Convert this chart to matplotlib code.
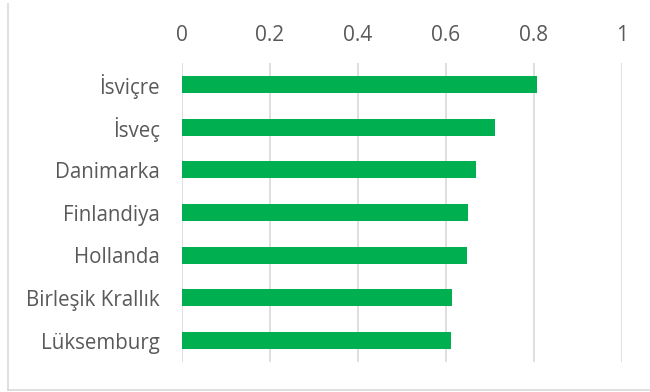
import matplotlib.pyplot as plt
from matplotlib.lines import Line2D

# Index values by country
countries = ["İsviçre", "İsveç", "Danimarka", "Finlandiya", "Hollanda",
             "Birleşik Krallık", "Lüksemburg"]
values = [0.807, 0.711, 0.668, 0.649, 0.648, 0.613, 0.611]
ticks = [0, 0.2, 0.4, 0.6, 0.8, 1]
tick_labels = ["0", "0.2", "0.4", "0.6", "0.8", "1"]

plt.rcParams['font.family'] = ['Open Sans', 'DejaVu Sans']
text_color = "#595959"

fig = plt.figure(figsize=(6.5, 3.92), dpi=100)
ax = fig.add_axes([182 / 650, 1 - 362 / 392, 440 / 650, 299 / 392])

ax.barh(range(len(countries)), values, height=0.4, color="#00B050", zorder=3)
ax.set_ylim(len(countries) - 0.5, -0.5)
ax.set_xlim(0, 1)

ax.set_xticks(ticks)
ax.set_xticklabels(tick_labels)
ax.xaxis.tick_top()
ax.set_yticks(range(len(countries)))
ax.set_yticklabels(countries)
ax.tick_params(axis="x", length=0, pad=12, labelsize=15, labelcolor=text_color)
ax.tick_params(axis="y", length=0, pad=16, labelsize=14.8, labelcolor=text_color)

ax.grid(axis="x", color="#d9d9d9", linewidth=1.2, zorder=0)
for s in ax.spines.values():
    s.set_visible(False)

# chart frame
fig.add_artist(Line2D([8 / 650, 8 / 650], [1 - 4 / 392, 1 - 390 / 392],
                      color="#d9d9d9", linewidth=1.2))
fig.add_artist(Line2D([8 / 650, 1], [1 - 390 / 392, 1 - 390 / 392],
                      color="#d9d9d9", linewidth=1.2))

plt.savefig("out.png", dpi=100)
